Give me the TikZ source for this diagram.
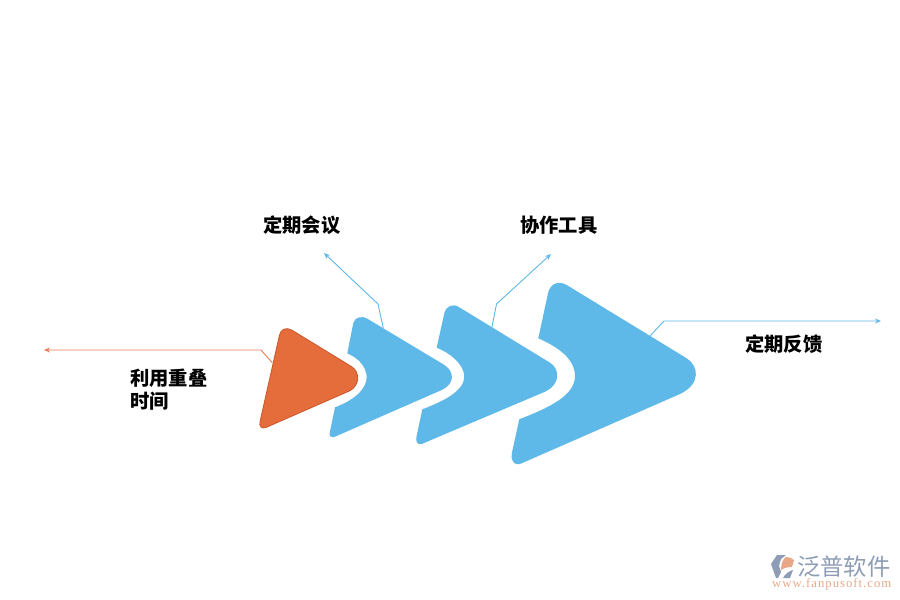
\documentclass[tikz,border=0pt]{standalone}
\usepackage{fontspec}
\newfontfamily\cjk{Noto Sans CJK SC}
\newfontfamily\urlfont[LetterSpace=8]{Liberation Serif}
\definecolor{skyb}{HTML}{5EB8E8}
\definecolor{orangef}{HTML}{E56D3B}
\definecolor{oranged}{HTML}{C8562A}
\definecolor{orangel}{HTML}{EA7B55}
\definecolor{logog}{HTML}{8E9DB5}
\definecolor{logoo}{HTML}{E8A888}
\usetikzlibrary{arrows.meta}
\tikzset{
  lead/.style={draw=skyb,line width=0.9pt,-{Stealth[length=6pt,width=5pt]}},
  leado/.style={draw=orangel,line width=0.9pt,-{Stealth[length=6pt,width=5pt]}},
  lab/.style={font=\cjk\fontsize{19.3}{23}\selectfont\bfseries,text=black,inner sep=0pt,align=left},
}
\begin{document}
\begin{tikzpicture}[x=1pt,y=-1pt]
\useasboundingbox (0,0) rectangle (900,600);
% orange triangle
\path[fill=orangef,draw=oranged,line width=0.8pt]
 (279.5,335) .. controls (281,329) and (286,327) .. (291.7,330)
 -- (351.7,366.7) .. controls (360,372) and (360,385) .. (350,390.7)
 -- (265.5,427.7) .. controls (261.5,429) and (259,426) .. (260,421.7) -- cycle;
% blue 1
\path[fill=skyb]
 (353.3,323) .. controls (355,317) and (362,315) .. (368.3,319.3)
 -- (443.3,364.3) .. controls (455,371) and (455,384) .. (441.7,390)
 -- (335,436.7) .. controls (331,438) and (328.5,436) .. (329.8,432.3)
 -- (335,407.3) .. controls (352,401) and (367,390) .. (366.7,376.7)
 .. controls (366,366) and (358,358) .. (347.3,353.3) -- cycle;
% blue 2
\path[fill=skyb]
 (444.3,313.3) .. controls (446,306) and (453,303) .. (459.3,307.3)
 -- (550,362.7) .. controls (560,369) and (561,384) .. (545,391.7)
 -- (421.7,444) .. controls (417,445) and (415.5,441) .. (416.5,436.7)
 -- (422.3,409.3) .. controls (444,401) and (464,391) .. (464.3,376.7)
 .. controls (464,364) and (450,353) .. (436.7,347.7) -- cycle;
% blue 3
\path[fill=skyb]
 (548,293.3) .. controls (550,284) and (558,280) .. (566.7,285)
 -- (686.7,358.3) .. controls (699,366) and (701,384) .. (680,394)
 -- (520,464) .. controls (514,466) and (510.5,460) .. (511.8,453.3)
 -- (519.3,419.3) .. controls (548,408) and (575,396) .. (575,376)
 .. controls (575,358) and (556,346) .. (538.3,338.3) -- cycle;
% anchors
\coordinate (o0) at (272.3,362.7); \coordinate (o1) at (261,350); \coordinate (o2) at (44,350);
\coordinate (a0) at (383.3,328.3); \coordinate (a1) at (378,304); \coordinate (a2) at (324,253);
\coordinate (b0) at (491.7,328.3); \coordinate (b1) at (496.5,304); \coordinate (b2) at (551,254);
\coordinate (c0) at (650,336); \coordinate (c1) at (664,321); \coordinate (c2) at (881,321);
\draw[leado] (o0) -- (o1) -- (o2);
\draw[lead] (a0) -- (a1) -- (a2);
\draw[lead] (b0) -- (b1) -- (b2);
\draw[lead] (c0) -- (c1) -- (c2);
% labels
\node[lab,anchor=west] (l1) at (263,225) {定期会议};
\node[lab,anchor=west] (l2) at (520,225) {协作工具};
\node[lab,anchor=west] (l3) at (745,344) {定期反馈};
\node[lab,anchor=west] (l4) at (130,390) {利用重叠\\[0pt]时间};
% watermark
\path[fill=logog] (771,564) -- (777,555) -- (786,555) -- (781,559) -- (779,566) -- (781,572) -- (778,578) -- (776,578) -- cycle;
\path[fill=logoo] (781,570) .. controls (781,563) and (783,559) .. (786,557) .. controls (789,557) and (792,558) .. (794,560) -- (792,567) .. controls (788,567) and (784,568) .. (781,570) -- cycle;
\path[fill=logog] (783,578) .. controls (785,574) and (789,571) .. (793,570) -- (790,578) -- cycle;
\node[inner sep=0pt,anchor=west,text=logog,font=\cjk\fontsize{23.3}{23}\selectfont] (w1) at (797,567) {泛普软件};
\node[inner sep=0pt,anchor=west,text=logoo,font=\urlfont\fontsize{12.7}{14}\selectfont] (w2) at (772,584) {www.fanpusoft.com};
\end{tikzpicture}
\end{document}
